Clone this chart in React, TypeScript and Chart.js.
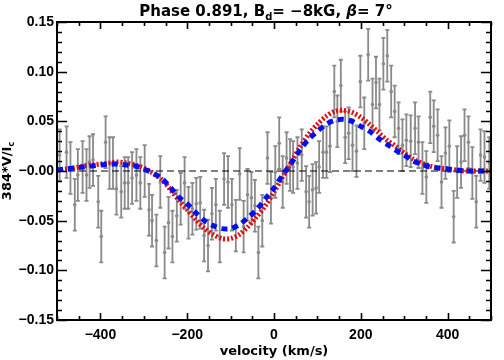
import React, { useEffect, useRef } from 'react';
import { Chart, registerables } from 'chart.js';

Chart.register(...registerables);

// Observed Stokes V points (velocity km/s, 384*V/Ic)
const velocity = [
  -494, -478, -469, -459, -452, -441, -432, -425, -417, -405, -398, -388, -379, -371, -363, -352, -344, -336, -327, -317,
  -308, -298, -288, -281, -271, -262, -252, -243, -234, -224, -215, -206, -197, -188, -179, -170, -161, -152, -143, -134,
  -125, -115, -106, -97, -88, -79, -70, -61, -52, -44, -36, -27, -15, -7, 3, 12, 20, 29, 37, 44,
  54, 64, 74, 81, 89, 97, 104, 113, 121, 129, 139, 146, 154, 164, 172, 181, 190, 199, 208, 217,
  227, 235, 243, 252, 261, 270, 278, 287, 296, 305, 315, 325, 333, 342, 351, 360, 368, 377, 386, 395,
  404, 414, 422, 431, 439, 448, 457, 466, 476, 485, 496,
];
const stokesV = [
  0.016, 0.019, 0.003, -0.034, -0.004, 0.004, -0.004, 0.009, 0.011, -0.031, -0.066, 0.029, 0.008, 0.008, -0.018, -0.021, -0.012, -0.012, -0.007, -0.004,
  -0.012, 0.000, -0.039, -0.050, -0.070, -0.011, -0.082, -0.052, -0.066, -0.045, -0.028, -0.012, -0.042, -0.038, -0.033, -0.032, -0.065, -0.075, -0.043, -0.034,
  -0.066, -0.008, -0.011, -0.034, -0.055, -0.003, -0.056, -0.024, -0.027, -0.035, -0.082, -0.050, 0.013, -0.027, -0.001, 0.028, -0.011, 0.013, 0.006, 0.004,
  0.008, 0.016, -0.021, -0.031, -0.019, -0.017, 0.004, 0.019, 0.019, 0.025, 0.080, 0.050, 0.086, 0.034, 0.038, 0.026, 0.020, 0.090, 0.048, 0.117,
  0.067, 0.089, 0.067, 0.108, 0.116, 0.080, 0.060, 0.043, 0.026, 0.031, 0.030, 0.043, 0.029, 0.003, -0.006, 0.054, 0.045, 0.036, -0.011, 0.018,
  0.025, -0.046, -0.001, 0.009, 0.036, 0.029, -0.002, -0.031, 0.016, 0.014, 0.008,
];
const stokesErr = 0.026;

// Model profiles
const modelVel = [
  -500, -480, -460, -440, -420, -400, -380, -360, -340, -320, -300, -280, -260, -240, -220, -200, -180, -160, -140, -120,
  -100, -80, -60, -40, -20, 0, 20, 40, 60, 80, 100, 120, 140, 160, 180, 200, 220, 240, 260, 280,
  300, 320, 340, 360, 380, 400, 420, 440, 460, 480, 500,
];
const modelRed = [
  0.001, 0.002, 0.003, 0.005, 0.006, 0.007, 0.008, 0.009, 0.008, 0.006, 0.003, -0.002, -0.008, -0.018, -0.029, -0.039, -0.049, -0.058, -0.064, -0.068,
  -0.068, -0.064, -0.056, -0.046, -0.035, -0.021, -0.006, 0.009, 0.024, 0.037, 0.047, 0.055, 0.060, 0.061, 0.059, 0.054, 0.047, 0.039, 0.031, 0.025,
  0.018, 0.012, 0.008, 0.005, 0.003, 0.002, 0.001, 0.000, 0.000, 0.000, 0.000,
];
const modelBlue = [
  0.001, 0.002, 0.003, 0.004, 0.005, 0.006, 0.007, 0.007, 0.006, 0.005, 0.002, -0.002, -0.007, -0.016, -0.026, -0.033, -0.042, -0.050, -0.055, -0.058,
  -0.058, -0.054, -0.047, -0.039, -0.028, -0.017, -0.004, 0.008, 0.021, 0.032, 0.040, 0.047, 0.051, 0.052, 0.050, 0.045, 0.040, 0.033, 0.027, 0.021,
  0.016, 0.010, 0.007, 0.004, 0.003, 0.002, 0.001, 0.000, 0.000, 0.000, 0.000,
];

const xMajorTicks = [-400, -200, 0, 200, 400];
const yMajorTicks = [-0.15, -0.1, -0.05, 0, 0.05, 0.1, 0.15];
const xMinorStep = 50;
const yMinorStep = 0.01;

const FONT = '"Liberation Sans", Arial, Helvetica, sans-serif';
const TFONT = '"DejaVu Sans", "Liberation Sans", sans-serif';
const GRAY = '#8a8a8a';

type Part = { t: string; sub?: boolean; italic?: boolean };

function drawRich(ctx: CanvasRenderingContext2D, parts: Part[], size: number, cx: number, baseY: number) {
  const fontFor = (p: Part) => `${p.italic ? 'italic ' : ''}bold ${p.sub ? Math.round(size * 0.65) : size}px ${TFONT}`;
  let total = 0;
  for (const p of parts) {
    ctx.font = fontFor(p);
    total += ctx.measureText(p.t).width;
  }
  let x = cx - total / 2;
  ctx.textAlign = 'left';
  ctx.textBaseline = 'alphabetic';
  for (const p of parts) {
    ctx.font = fontFor(p);
    ctx.fillText(p.t, x, baseY + (p.sub ? size * 0.25 : 0));
    x += ctx.measureText(p.t).width;
  }
}

const idlPlugin = {
  id: 'idlStyle',
  beforeDatasetsDraw(chart: any) {
    const ctx = chart.ctx as CanvasRenderingContext2D;
    const xs = chart.scales.x;
    const ys = chart.scales.y;
    ctx.save();
    ctx.strokeStyle = GRAY;
    ctx.lineWidth = 1.8;
    for (let i = 0; i < velocity.length; i++) {
      const px = xs.getPixelForValue(velocity[i]);
      const pt = ys.getPixelForValue(stokesV[i] + stokesErr);
      const pb = ys.getPixelForValue(stokesV[i] - stokesErr);
      ctx.beginPath();
      ctx.moveTo(px, pt);
      ctx.lineTo(px, pb);
      ctx.moveTo(px - 2, pt);
      ctx.lineTo(px + 2, pt);
      ctx.moveTo(px - 2, pb);
      ctx.lineTo(px + 2, pb);
      ctx.stroke();
    }
    ctx.restore();
  },
  afterDraw(chart: any) {
    const ctx = chart.ctx as CanvasRenderingContext2D;
    const a = chart.chartArea;
    const xs = chart.scales.x;
    const ys = chart.scales.y;
    ctx.save();
    ctx.strokeStyle = '#000';
    ctx.fillStyle = '#000';
    // frame
    ctx.lineWidth = 2;
    ctx.strokeRect(a.left, a.top, a.right - a.left, a.bottom - a.top);
    // x ticks (inward, top and bottom)
    ctx.lineWidth = 1.6;
    ctx.beginPath();
    for (let v = xs.min; v <= xs.max + 1e-9; v += xMinorStep) {
      const px = Math.round(xs.getPixelForValue(v)) + 0.5;
      const major = xMajorTicks.includes(v);
      const len = major ? 7 : 4;
      ctx.moveTo(px, a.bottom);
      ctx.lineTo(px, a.bottom - len);
      ctx.moveTo(px, a.top);
      ctx.lineTo(px, a.top + len);
    }
    // y ticks (inward, left and right)
    for (let k = -15; k <= 15; k++) {
      const v = k * yMinorStep;
      const py = Math.round(ys.getPixelForValue(v)) + 0.5;
      const major = k % 5 === 0;
      const len = major ? 10 : 5;
      ctx.moveTo(a.left, py);
      ctx.lineTo(a.left + len, py);
      ctx.moveTo(a.right, py);
      ctx.lineTo(a.right - len, py);
    }
    ctx.stroke();

    // title
    const cx = (a.left + a.right) / 2;
    drawRich(ctx, [
      { t: 'Phase 0.891, B' },
      { t: 'd', sub: true },
      { t: '= \u22128kG, ' },
      { t: '\u03B2', italic: true },
      { t: '= 7\u00B0' },
    ], 15, cx - 8, 16);

    // x axis title
    drawRich(ctx, [{ t: 'velocity (km/s)' }], 13, cx, 355);

    // y axis title (rotated)
    ctx.save();
    ctx.translate(11, (a.top + a.bottom) / 2);
    ctx.rotate(-Math.PI / 2);
    drawRich(ctx, [{ t: '384*V/I' }, { t: 'c', sub: true }], 13, 0, 0);
    ctx.restore();

    ctx.restore();
  },
};

const fmtMinus = (s: string) => s.replace('-', '\u2212');

export default function App() {
  const ref = useRef<HTMLCanvasElement | null>(null);

  useEffect(() => {
    if (!ref.current) return;
    const chart = new Chart(ref.current, {
      type: 'scatter',
      data: {
        datasets: [
          {
            type: 'line',
            label: 'model 2',
            data: modelVel.map((x, i) => ({ x, y: modelBlue[i] })),
            borderColor: '#0010f0',
            borderWidth: 5,
            borderDash: [6, 5],
            pointRadius: 0,
            tension: 0.3,
            fill: false,
            order: 0,
          },
          {
            type: 'line',
            label: 'model 1',
            data: modelVel.map((x, i) => ({ x, y: modelRed[i] })),
            borderColor: '#dd1010',
            borderWidth: 5,
            borderDash: [2, 2],
            pointRadius: 0,
            tension: 0.3,
            fill: false,
            order: 1,
          },
          {
            type: 'line',
            label: 'zero',
            data: [{ x: -500, y: 0 }, { x: 500, y: 0 }],
            borderColor: '#000',
            borderWidth: 1,
            borderDash: [7, 4],
            pointRadius: 0,
            fill: false,
            order: 2,
          },
          {
            type: 'scatter',
            label: 'observed',
            data: velocity.map((x, i) => ({ x, y: stokesV[i] })),
            backgroundColor: GRAY,
            borderColor: GRAY,
            pointRadius: 1.8,
            borderWidth: 0,
            order: 3,
          },
        ],
      },
      options: {
        animation: false,
        responsive: false,
        maintainAspectRatio: false,
        layout: { padding: { top: 22, right: 13, left: 0, bottom: 0 } },
        plugins: {
          legend: { display: false },
          tooltip: { enabled: false },
          title: { display: false },
        },
        scales: {
          x: {
            type: 'linear',
            min: -500,
            max: 500,
            grid: { display: false, drawTicks: false },
            border: { display: false },
            afterFit: (s: any) => { s.height = 40; },
            afterBuildTicks: (s: any) => { s.ticks = xMajorTicks.map((v) => ({ value: v })); },
            ticks: {
              padding: 7,
              color: '#000',
              maxRotation: 0,
              font: { family: FONT, size: 14, weight: 'bold' },
              callback: (v: any) => fmtMinus(String(v)),
            },
          },
          y: {
            type: 'linear',
            min: -0.15,
            max: 0.15,
            grid: { display: false, drawTicks: false },
            border: { display: false },
            afterFit: (s: any) => { s.width = 57; },
            afterBuildTicks: (s: any) => { s.ticks = yMajorTicks.map((v) => ({ value: v })); },
            ticks: {
              padding: 3,
              color: '#000',
              font: { family: FONT, size: 14, weight: 'bold' },
              callback: (v: any) => {
                const n = Number(v);
                if (Math.abs(n) < 1e-9) return '\u22120.00';
                return (n < 0 ? '\u2212' : '') + Math.abs(n).toFixed(2);
              },
            },
          },
        },
      },
      plugins: [idlPlugin],
    } as any);
    return () => chart.destroy();
  }, []);

  return (
    <canvas
      ref={ref}
      width={504}
      height={360}
      style={{ position: 'fixed', left: 0, top: 0, width: 504, height: 360, background: '#fff' }}
    />
  );
}
